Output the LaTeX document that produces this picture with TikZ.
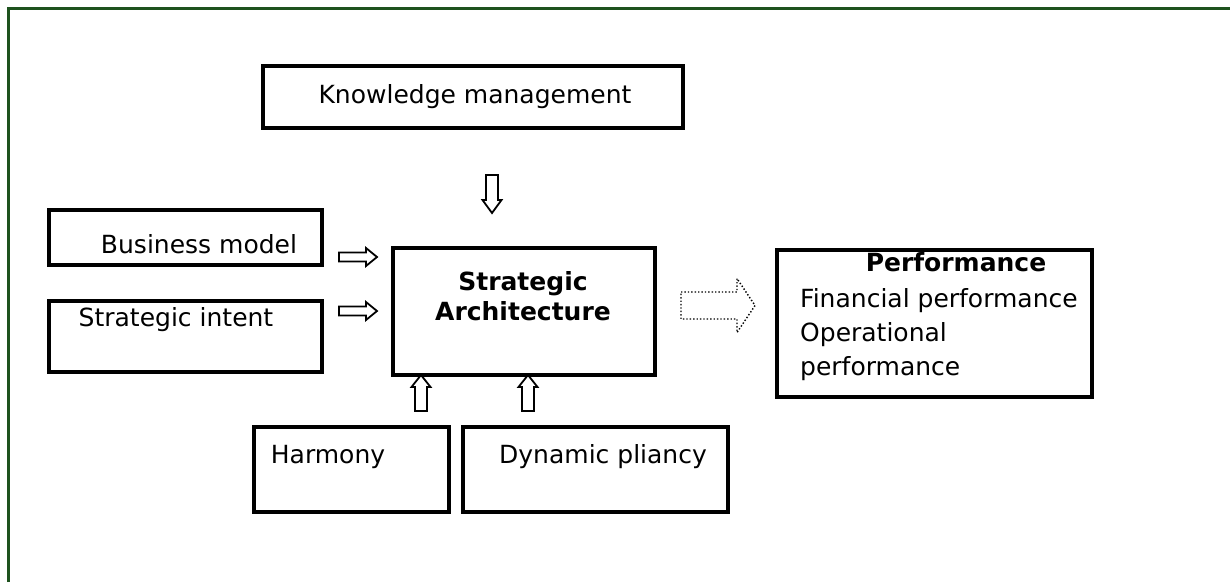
\documentclass[tikz,border=0pt]{standalone}
\usepackage{fontspec}
\setmainfont{DejaVu Sans}
\definecolor{framegreen}{RGB}{30,82,30}
\newcommand{\blockarrow}[8]{%
  \draw[#8,shift={(#1,#2)},rotate=#3]
    (0,-#5) -- ({#4-#7},-#5) -- ({#4-#7},-#6) -- (#4,0) -- ({#4-#7},#6)
    -- ({#4-#7},#5) -- (0,#5) -- cycle;}
\tikzset{
  box/.style={draw=black,line width=3.4pt,fill=white},
  txt/.style={inner sep=0pt,font=\fontsize{25}{34}\selectfont},
  bold/.style={txt,font=\fontsize{25}{30}\selectfont\bfseries},
  barrowline/.style={draw=black,line width=1.8pt,fill=white,line join=miter},
  dotarrow/.style={draw=black,line width=1.4pt,dotted,line join=miter},
}
\begin{document}
\begin{tikzpicture}[x=1pt,y=-1pt]
\useasboundingbox (0,0) rectangle (1230,582);
% outer frame
\draw[framegreen,line width=3pt] (8,582) -- (8,8) -- (1230,8);

% boxes
\draw[box] (263,66) rectangle (683,128);
\node[txt] (kmt) at (475,97) {Knowledge management};

\draw[box] (49,210) rectangle (322,265);
\node[txt] (bmt) at (199,244) {Business model};

\draw[box] (49,301) rectangle (322,372);
\node[txt] (sit) at (176,320) {Strategic intent};

\draw[box] (393,248) rectangle (655,375);
\node[bold,align=center] (sat) at (523,296) {Strategic\\Architecture};

\draw[box] (254,427) rectangle (449,512);
\node[txt] (hat) at (328,457) {Harmony};

\draw[box] (463,427) rectangle (728,512);
\node[txt] (dpt) at (603,457) {Dynamic pliancy};

\draw[box] (777,250) rectangle (1092,397);
\node[bold] (pft) at (956,262) {Performance};
\node[txt,align=left,anchor=north west] (pfl) at (800,288)
  {Financial performance\\Operational\\performance};

% block arrows
\blockarrow{492}{175}{-90}{38}{6}{9.5}{13}{barrowline}
\blockarrow{339}{257}{0}{38}{4.5}{9}{11}{barrowline}
\blockarrow{339}{311}{0}{38}{4.5}{9}{11}{barrowline}
\blockarrow{421}{411}{90}{36}{6}{9.5}{12}{barrowline}
\blockarrow{528}{411}{90}{36}{6}{9.5}{12}{barrowline}
\blockarrow{681}{305.5}{0}{74}{13.5}{27}{18}{dotarrow}
\end{tikzpicture}
\end{document}
